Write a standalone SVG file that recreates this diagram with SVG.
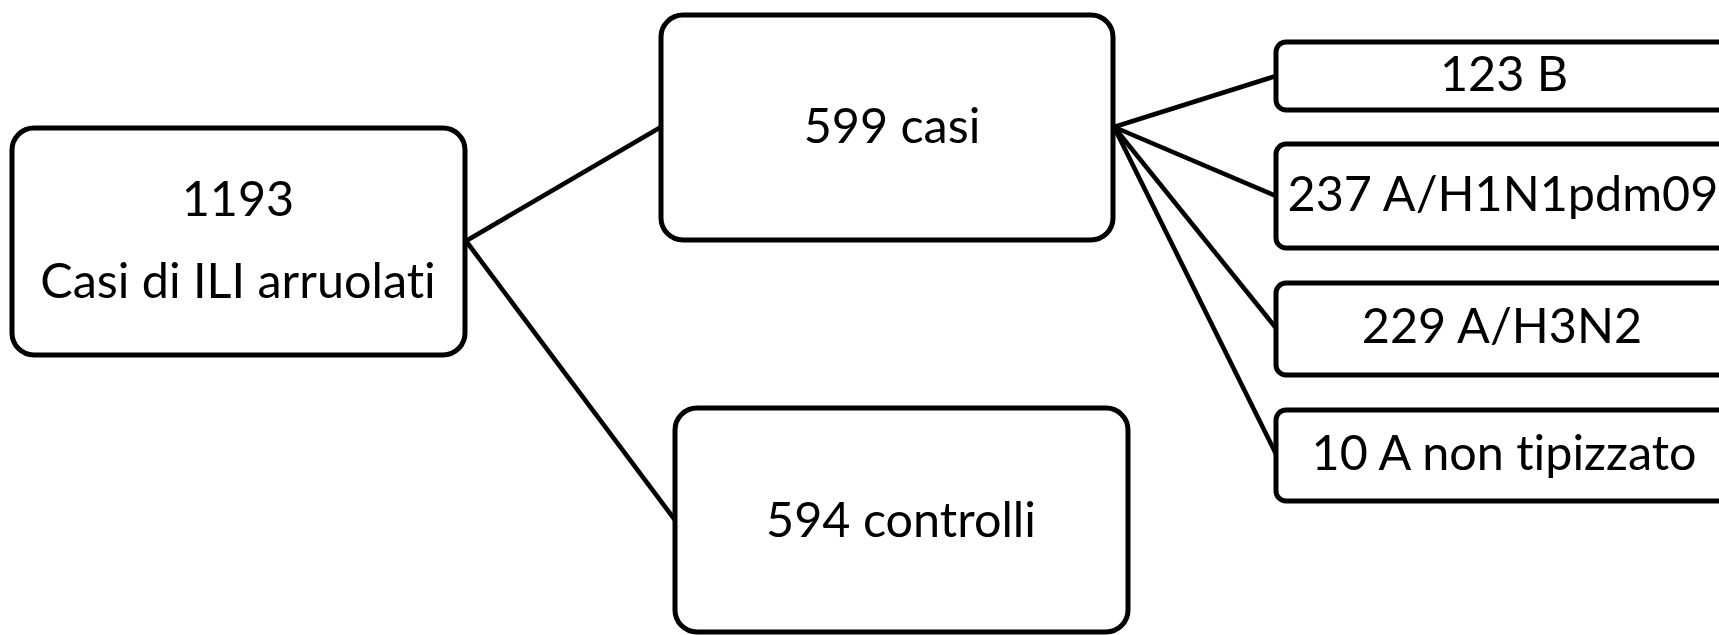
<svg xmlns="http://www.w3.org/2000/svg" width="1719" height="635" viewBox="0 0 1719 635">
<style>
.box{fill:#fff;stroke:#000;stroke-width:5}
.lbl{font-family:Lato,"Liberation Sans",sans-serif;font-size:48.5px;fill:#000;text-anchor:middle;font-variant-ligatures:none;font-feature-settings:"liga" 0,"dlig" 0}
.con{stroke:#000;stroke-width:4.6;fill:none}
</style>
<rect width="1719" height="635" fill="#fff"/>
<g id="connectors">
<line class="con" x1="466" y1="241" x2="661" y2="127"/>
<line class="con" x1="466" y1="241" x2="675" y2="520"/>
<line class="con" x1="1114" y1="127" x2="1276" y2="76"/>
<line class="con" x1="1114" y1="127" x2="1276" y2="196"/>
<line class="con" x1="1114" y1="127" x2="1276" y2="328"/>
<line class="con" x1="1114" y1="127" x2="1276" y2="454"/>
</g>
<g id="n1193">
<rect class="box" x="12" y="128" width="453" height="227" rx="22"/>
<text class="lbl" x="238" y="216">1193</text>
<text class="lbl" x="238" y="298">Casi di ILI arruolati</text>
</g>
<g id="n599">
<rect class="box" x="661" y="15" width="452" height="225" rx="22"/>
<text class="lbl" x="892" y="143">599 casi</text>
</g>
<g id="n594">
<rect class="box" x="675" y="408" width="453" height="224" rx="22"/>
<text class="lbl" x="901" y="537">594 controlli</text>
</g>
<g id="n123B">
<rect class="box" x="1276" y="42" width="500" height="68" rx="10"/>
<text class="lbl" x="1504" y="91">123 B</text>
</g>
<g id="nH1N1">
<rect class="box" x="1276" y="144" width="500" height="104" rx="10"/>
<text class="lbl" x="1503" y="211">237 A/H1N1pdm09</text>
</g>
<g id="nH3N2">
<rect class="box" x="1276" y="283" width="500" height="92" rx="10"/>
<text class="lbl" x="1502" y="343">229 A/H3N2</text>
</g>
<g id="nA">
<rect class="box" x="1276" y="410" width="500" height="91" rx="10"/>
<text class="lbl" x="1504" y="470">10 A non tipizzato</text>
</g>
</svg>
